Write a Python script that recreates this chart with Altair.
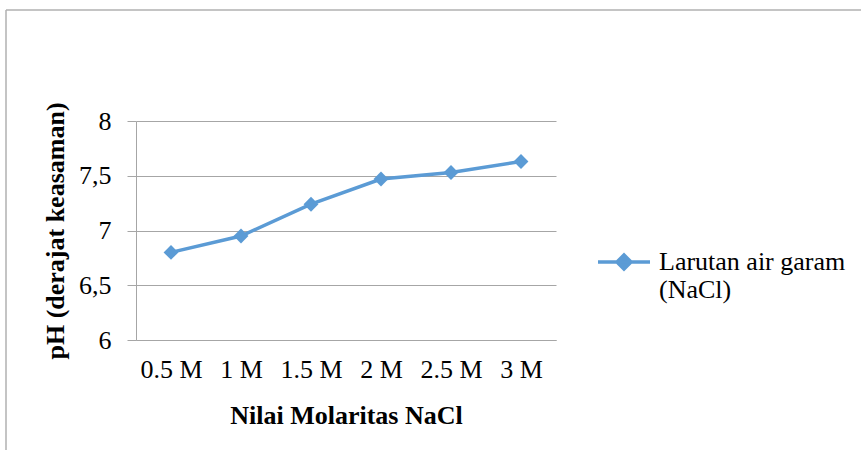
import altair as alt
import pandas as pd

categories = ["0.5 M", "1 M", "1.5 M", "2 M", "2.5 M", "3 M"]
ph_values = [6.80, 6.95, 7.24, 7.47, 7.53, 7.63]
series_name = "Larutan air garam (NaCl)"
y_ticks = [6, 6.5, 7, 7.5, 8]

df = pd.DataFrame({"molar": categories, "ph": ph_values, "series": [series_name] * len(categories)})

FONT = "Liberation Serif"
BLUE = "#5B9BD5"
GRID = "#a6a6a6"

legend = alt.Legend(
    title=None,
    orient="none",
    legendX=460,
    legendY=113,
    padding=0,
    symbolType="M-1,0L1,0M0,-0.27L0.27,0L0,0.27L-0.27,0Z",
    symbolSize=2704,
    symbolStrokeWidth=3.5,
    symbolFillColor=BLUE,
    symbolStrokeColor=BLUE,
    labelFont=FONT,
    labelFontSize=26,
    labelColor="black",
    labelOffset=7,
    labelBaseline="middle",
    labelLimit=400,
    labelExpr="[slice(datum.label, 0, 17), slice(datum.label, 18)]",
)

x_enc = alt.X(
    "molar:N",
    sort=categories,
    scale=alt.Scale(type="point", padding=0.5),
    axis=alt.Axis(
        title="Nilai Molaritas NaCl",
        labelAngle=0,
        ticks=False,
        grid=False,
        domainColor=GRID,
        labelPadding=16,
        labelFont=FONT,
        labelFontSize=26,
        labelColor="black",
        titleFont=FONT,
        titleFontSize=26,
        titleFontWeight="bold",
        titleColor="black",
        titleBaseline="alphabetic",
        titleY=83,
    ),
)
y_enc = alt.Y(
    "ph:Q",
    scale=alt.Scale(domain=[6, 8], nice=False, zero=False),
    axis=alt.Axis(
        title="pH (derajat keasaman)",
        values=y_ticks,
        labelExpr="replace(toString(datum.value), '.', ',')",
        tickSize=9,
        tickColor=GRID,
        domainColor=GRID,
        gridColor=GRID,
        labelPadding=16,
        labelFont=FONT,
        labelFontSize=26,
        labelColor="black",
        titleFont=FONT,
        titleFontSize=26,
        titleFontWeight="bold",
        titleColor="black",
        titleAngle=270,
        titleBaseline="alphabetic",
        titleX=-73,
        titleY=109.5,
    ),
)
color_enc = alt.Color("series:N", scale=alt.Scale(range=[BLUE]), legend=legend)

base = alt.Chart(df)
line = base.mark_line(strokeWidth=3.5).encode(x=x_enc, y=y_enc, color=color_enc)
points = base.mark_point(shape="diamond", filled=True, size=220, opacity=1).encode(
    x=x_enc, y=y_enc, color=color_enc
)

frame_data = alt.Data(values=[{"k": 1}])
frame_top = alt.Chart(frame_data).mark_rule(color="#b0b0b0", strokeWidth=1.5).encode(
    x=alt.value(-130), x2=alt.value(725), y=alt.value(-111)
)
frame_left = alt.Chart(frame_data).mark_rule(color="#b0b0b0", strokeWidth=1.5).encode(
    x=alt.value(-130), y=alt.value(-111), y2=alt.value(329)
)

chart = (
    alt.layer(frame_top, frame_left, line, points)
    .properties(
        width=420,
        height=219,
        autosize=alt.AutoSizeParams(type="none"),
        padding={"left": 136, "top": 121, "right": 305, "bottom": 110},
        background="white",
    )
    .configure_view(stroke=None)
    .configure_legend(labelFont=FONT)
)

chart.save("out.html", embed_options={"renderer": "svg", "actions": False})
